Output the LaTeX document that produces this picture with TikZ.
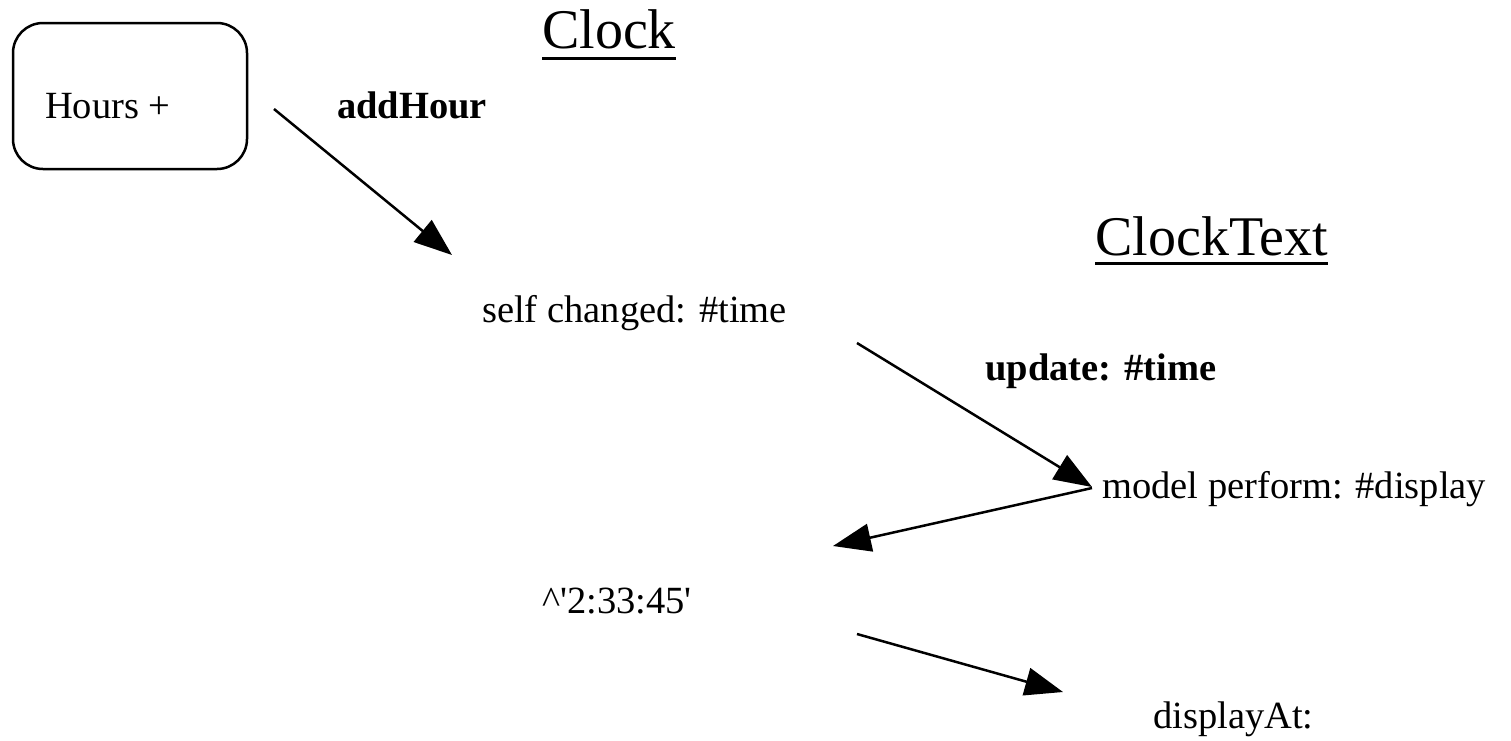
\documentclass[tikz,border=0pt]{standalone}
\usepackage{fontspec}
\setmainfont{Liberation Serif}
\usetikzlibrary{arrows.meta,calc}

\tikzset{
  msg/.style={anchor=base west, inner sep=0pt, font=\fontsize{38.5}{46}\selectfont},
  msgbold/.style={msg, font=\fontsize{38.5}{46}\selectfont\bfseries},
  classname/.style={anchor=base west, inner sep=0pt, font=\fontsize{56}{66}\selectfont},
  objbox/.style={draw, line width=2.5pt, rounded corners=30pt, inner sep=0pt,
    minimum width=234pt, minimum height=146pt},
  send/.style={line width=2.5pt, -{Triangle[length=38pt,width=28pt]}},
  uline/.style={line width=3pt}
}

\begin{document}
\begin{tikzpicture}[x=1pt,y=-1pt]
  \useasboundingbox (0,0) rectangle (1511,740);

  % the button object
  \node[objbox] (hours) at (130,96) {};
  \node[msg] (hourslbl) at (45,118) {Hours +};

  % class headers, underlined
  \node[classname] (clock) at (542,48) {Clock};
  \draw[uline] ($(clock.base west)+(0,10)$) -- ($(clock.base east)+(0,10)$);
  \node[classname] (clocktext) at (1095,255) {ClockText};
  \draw[uline] ($(clocktext.base west)+(0,8)$) -- ($(clocktext.base east)+(0,8)$);

  % message texts
  \node[msgbold] (addhour) at (337,118) {addHour};
  \node[msg] (changed) at (482,322) {self changed: \#time};
  \node[msgbold] (update) at (985,380) {update: \#time};
  \node[msg] (perform) at (1102,498) {model perform: \#display};
  \node[msg] (result) at (542,613) {\^{}\textquotesingle 2:33:45\textquotesingle};
  \node[msg] (display) at (1153,728) {displayAt:};

  % arrow end points
  \coordinate (a1s) at (274,109);
  \coordinate (a1e) at (452,255);
  \coordinate (a2s) at (857,343);
  \coordinate (a2e) at (1092,487);
  \coordinate (a3s) at (1092,488);
  \coordinate (a3e) at (833,546);
  \coordinate (a4s) at (857,634);
  \coordinate (a4e) at (1063,692);

  \draw[send] (a1s) -- (a1e);
  \draw[send] (a2s) -- (a2e);
  \draw[send] (a3s) -- (a3e);
  \draw[send] (a4s) -- (a4e);
\end{tikzpicture}
\end{document}
